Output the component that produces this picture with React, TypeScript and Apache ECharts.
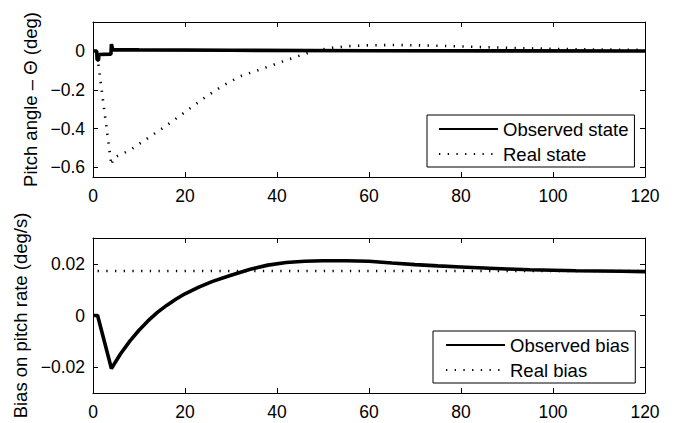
import React, { useEffect, useRef } from "react";
import * as echarts from "echarts";

// Top panel: pitch angle
const tObservedState = [0, 0.8, 0.9, 1.2, 1.3, 3.9, 4.0, 4.3, 10, 30, 60, 90, 120];
const observedState = [0, 0, -0.046, -0.046, -0.018, -0.016, 0.036, 0.007, 0.006, 0.004, 0.002, 0.001, 0];
const tRealState = [0, 0.8, 4, 4.4, 8, 12, 16, 20, 24, 28, 32, 36, 40, 44, 48, 52, 56, 60, 65, 70, 75, 80, 85, 90, 95, 100, 110, 120];
const realState = [0, 0, -0.59, -0.552, -0.512, -0.448, -0.384, -0.315, -0.245, -0.182, -0.13, -0.098, -0.064, -0.031, 0, 0.017, 0.026, 0.03, 0.031, 0.03, 0.027, 0.024, 0.02, 0.017, 0.014, 0.011, 0.008, 0.006];

// Bottom panel: bias on pitch rate
const tObservedBias = [0, 1, 4, 6, 8, 10, 12, 14, 16, 18, 20, 23, 26, 30, 34, 38, 42, 46, 50, 55, 60, 65, 70, 75, 80, 85, 90, 95, 100, 105, 110, 115, 120];
const observedBias = [0, 0, -0.0205, -0.0148, -0.0099, -0.0057, -0.002, 0.0012, 0.0039, 0.0063, 0.0084, 0.011, 0.0132, 0.0156, 0.0178, 0.0195, 0.0205, 0.021, 0.0212, 0.0212, 0.021, 0.0203, 0.0197, 0.0192, 0.0188, 0.0184, 0.018, 0.0177, 0.0175, 0.0173, 0.0172, 0.0171, 0.017];
const tRealBias = [1, 120];
const realBias = [0.0172, 0.0172];

const xTicks = [0, 20, 40, 60, 80, 100, 120];
const yTicksTop = [-0.6, -0.4, -0.2, 0];
const yTicksBottom = [-0.02, 0, 0.02];

const FONT = "'Liberation Sans', Arial, Helvetica, sans-serif";
const FS = 17.5;
const FS_NAME = 18.5;
const FS_LEGEND = 18.5;

const pairs = (xs: number[], ys: number[]) => xs.map((x, i) => [x, ys[i]]);
const fmt = (v: number) => (Math.abs(v) < 1e-12 ? "0" : String(+v.toFixed(3)).replace("-", "\u2212"));

export default function App() {
  const ref = useRef<HTMLDivElement>(null);
  useEffect(() => {
    if (!ref.current) return;
    const chart = echarts.init(ref.current, undefined, { renderer: "svg" });
    const axisLine = { show: true, onZero: false, lineStyle: { color: "#000", width: 1 } };
    const tickIn = (vals: number[]) => ({ show: true, inside: true, length: 5, lineStyle: { color: "#000", width: 1 }, customValues: vals });
    const xMain = (gridIndex: number) => ({
      type: "value", gridIndex, min: 0, max: 120, interval: 20, position: "bottom",
      axisLine, axisTick: tickIn(xTicks), splitLine: { show: false },
      axisLabel: { show: true, color: "#000", fontSize: FS, fontFamily: FONT, margin: 10, customValues: xTicks },
    });
    const xTop = (gridIndex: number) => ({
      type: "value", gridIndex, min: 0, max: 120, interval: 20, position: "top",
      axisLine, axisTick: tickIn(xTicks), splitLine: { show: false }, axisLabel: { show: false },
    });
    const yMain = (gridIndex: number, min: number, max: number, ticks: number[], name: string, gap: number) => ({
      type: "value", gridIndex, min, max, position: "left",
      name, nameLocation: "middle", nameRotate: 90, nameGap: gap,
      nameTextStyle: { color: "#000", fontSize: FS_NAME, fontFamily: FONT },
      axisLine, axisTick: tickIn(ticks), splitLine: { show: false },
      axisLabel: { show: true, color: "#000", fontSize: FS, fontFamily: FONT, margin: 8, customValues: ticks, formatter: (v: number) => fmt(v) },
    });
    const yRight = (gridIndex: number, min: number, max: number, ticks: number[]) => ({
      type: "value", gridIndex, min, max, position: "right",
      axisLine, axisTick: tickIn(ticks), splitLine: { show: false }, axisLabel: { show: false },
    });
    const solid = { color: "#000", width: 3.6 };
    const dotted = { color: "#000", width: 2.6, type: [1.3, 7.4] as number[] };
    const legendBase = {
      orient: "vertical", itemWidth: 59, itemHeight: 20, itemGap: 5,
      borderColor: "#000", borderWidth: 1, borderRadius: 0, backgroundColor: "#fff",
      selectedMode: false,
      itemStyle: { opacity: 0, color: "transparent", borderWidth: 0 },
      textStyle: { color: "#000", fontSize: FS_LEGEND, fontFamily: FONT, lineHeight: 20 },
    };
    chart.setOption({
      animation: false,
      backgroundColor: "#fff",
      grid: [
        { left: 93, top: 22, width: 552, height: 155 },
        { left: 93, top: 238, width: 552, height: 155 },
      ],
      xAxis: [xMain(0), xTop(0), xMain(1), xTop(1)],
      yAxis: [
        yMain(0, -0.65, 0.15, yTicksTop, "Pitch angle \u2013 \u0398 (deg)", 51),
        yRight(0, -0.65, 0.15, yTicksTop),
        yMain(1, -0.03, 0.03, yTicksBottom, "Bias on pitch rate (deg/s)", 59),
        yRight(1, -0.03, 0.03, yTicksBottom),
      ],
      legend: [
        { ...legendBase, left: 427, top: 115, padding: [4, 6, 3, 11], data: ["Observed state", "Real state"] },
        { ...legendBase, left: 433, top: 331, padding: [4, 6, 3, 12], data: ["Observed bias", "Real bias"] },
      ],
      series: [
        { name: "Real state", type: "line", xAxisIndex: 0, yAxisIndex: 0, data: pairs(tRealState, realState), symbol: "none", showSymbol: false, lineStyle: dotted, itemStyle: { color: "#000" } },
        { name: "Observed state", type: "line", xAxisIndex: 0, yAxisIndex: 0, data: pairs(tObservedState, observedState), symbol: "none", showSymbol: false, lineStyle: solid, itemStyle: { color: "#000" } },
        { name: "Real bias", type: "line", xAxisIndex: 2, yAxisIndex: 2, data: pairs(tRealBias, realBias), symbol: "none", showSymbol: false, lineStyle: dotted, itemStyle: { color: "#000" } },
        { name: "Observed bias", type: "line", xAxisIndex: 2, yAxisIndex: 2, data: pairs(tObservedBias, observedBias), symbol: "none", showSymbol: false, lineStyle: solid, itemStyle: { color: "#000" } },
      ],
    });
    return () => chart.dispose();
  }, []);
  return <div ref={ref} style={{ position: "absolute", left: 0, top: 0, width: 676, height: 423, background: "#fff" }} />;
}
